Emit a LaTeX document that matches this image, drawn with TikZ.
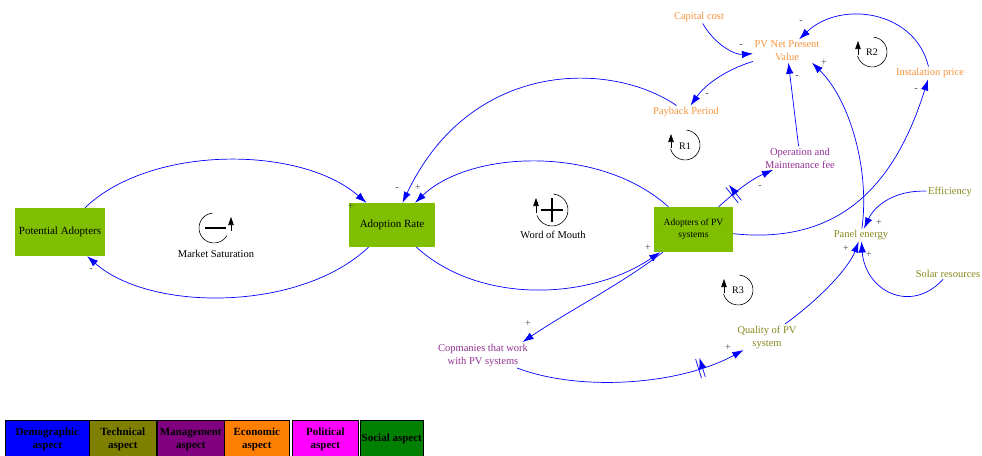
\documentclass[tikz,border=0pt]{standalone}
\usepackage{fontspec}
\setmainfont{Liberation Serif}
\usetikzlibrary{arrows.meta,decorations.markings}
\definecolor{boxgreen}{RGB}{127,191,0}
\definecolor{ecotext}{RGB}{247,148,60}
\definecolor{mgmttext}{RGB}{148,48,148}
\definecolor{techtext}{RGB}{136,136,30}
\definecolor{polgray}{RGB}{70,70,70}
\definecolor{lgblue}{RGB}{0,0,255}
\definecolor{lgolive}{RGB}{128,128,0}
\definecolor{lgpurple}{RGB}{128,0,128}
\definecolor{lgorange}{RGB}{255,128,0}
\definecolor{lgmagenta}{RGB}{255,0,255}
\definecolor{lggreen}{RGB}{0,128,0}
\begin{document}
\begin{tikzpicture}[x=1pt,y=-1pt,
  every node/.style={font=\fontsize{10.5}{13}\selectfont},
  stockbox/.style={fill=boxgreen, inner sep=2pt, align=center},
  eco/.style={text=ecotext, align=center, inner sep=1.5pt},
  mgmt/.style={text=mgmttext, align=center, inner sep=1.5pt},
  tech/.style={text=techtext, align=center, inner sep=1.5pt},
  pol/.style={font=\fontsize{10}{10}\selectfont, text=polgray, inner sep=0pt},
  conn/.style={blue, line width=0.7pt, -{Latex[length=11pt,width=7.5pt]}},
  loopsym/.style={black, line width=0.6pt},
  looptip/.style={black, line width=0.6pt, -{Triangle[length=8pt,width=5.5pt]}},
  legbox/.style={draw=black, line width=0.6pt, minimum height=38pt, anchor=north west, inner sep=0pt, align=center, font=\bfseries\fontsize{11}{13}\selectfont},
  delaymark/.style={postaction={decorate,decoration={markings,mark=at position #1 with {\draw[blue,line width=0.7pt] (-2pt,-10pt)--(-2pt,10pt) (2pt,-10pt)--(2pt,10pt);}}}}
]
\clip (0,0) rectangle (982,455);
\fill[white] (0,0) rectangle (982,455);

% stocks
\node[stockbox, minimum width=90pt, minimum height=48pt, font=\fontsize{11}{13}\selectfont] (PA) at (60,232) {Potential Adopters};
\node[stockbox, minimum width=86pt, minimum height=44pt, font=\fontsize{11}{13}\selectfont] (AR) at (392,225) {Adoption Rate};
\node[stockbox, minimum width=79pt, minimum height=45pt, font=\fontsize{9.5}{12}\selectfont] (AdPV) at (693.5,229.5) {Adopters of PV\\systems};

% variables
\node[eco] (Cap) at (699,17) {Capital cost};
\node[eco] (PV) at (787,51) {PV Net Present\\Value};
\node[eco] (Inst) at (930,73) {Instalation price};
\node[eco] (PB) at (686,112) {Payback Period};
\node[mgmt] (Op) at (800,158) {Operation and\\Maintenance fee};
\node[tech] (PE) at (861,235) {Panel energy};
\node[tech] (Eff) at (950,192) {Efficiency};
\node[tech] (Solar) at (948,274) {Solar resources};
\node[tech] (Qual) at (767,337) {Quality of PV\\system};
\node[mgmt] (Comp) at (483,355) {Copmanies that work\\with PV systems};

% connectors
\draw[conn] (PA) .. controls (150,145) and (300,145) .. (AR);
\draw[conn] (AR) .. controls (300,312) and (150,312) .. (PA);
\draw[conn] (PB) .. controls (610,60) and (470,60) .. (AR);
\draw[conn] (AdPV) .. controls (600,145) and (470,150) .. (AR);
\draw[conn] (AR) .. controls (480,305) and (590,300) .. (AdPV);
\draw[conn] ([xshift=9pt]AdPV.south west) .. controls (620,285) and (570,310) .. ([xshift=-7pt]Comp.north east);
\draw[conn, delaymark=0.8] (Comp) .. controls (580,392) and (680,385) .. (Qual);
\draw[conn] (Qual) .. controls (825,295) and (850,265) .. (PE);
\draw[conn] (Solar) .. controls (910,315) and (865,290) .. (PE);
\draw[conn] (Eff) .. controls (895,190) and (875,205) .. (PE);
\draw[conn] (PE) .. controls (870,170) and (850,100) .. ([xshift=-9pt]PV.south east);
\draw[conn] (AdPV) .. controls (840,245) and (895,185) .. (Inst);
\draw[conn] (Inst) .. controls (915,10) and (840,0) .. (PV);
\draw[conn] (Cap) .. controls (715,45) and (735,55) .. (PV);
\draw[conn] (PV) .. controls (725,70) and (705,85) .. (PB);
\draw[conn] (Op) -- (PV);
\draw[conn, delaymark=0.3] (AdPV) .. controls (735,192) and (750,180) .. (Op);

% polarities
\node[pol] (p1) at (351,207) {+};
\node[pol] (p2) at (91,270) {-};
\node[pol] (p3) at (397,189) {-};
\node[pol] (p4) at (418,188) {+};
\node[pol] (p5) at (648,248) {+};
\node[pol] (p6) at (528,324) {+};
\node[pol] (p7) at (728,348) {+};
\node[pol] (p8) at (846,249) {+};
\node[pol] (p9) at (869,255) {+};
\node[pol] (p10) at (879,223) {+};
\node[pol] (p11) at (760,187) {-};
\node[pol] (p12) at (797,77) {-};
\node[pol] (p13) at (824,63) {+};
\node[pol] (p14) at (741,46) {-};
\node[pol] (p15) at (707,95) {-};
\node[pol] (p16) at (801,22) {-};
\node[pol] (p17) at (916,90) {-};

% loop: Market Saturation (balancing)
\draw[loopsym] (214,228) ++(-95:15) arc (-95:-330:15);
\draw[looptip] (231,231) -- (231,217);
\draw[line width=1.8pt] (205,228) -- (226,228);
\node (MS) at (216,254) {Market Saturation};

% loop: Word of Mouth (reinforcing)
\draw[loopsym] (552,210) ++(-85:16) arc (-85:160:16);
\draw[looptip] (536,213) -- (536,198);
\draw[line width=1.8pt] (541,210) -- (563,210) (552,198) -- (552,222);
\node (WM) at (553,235) {Word of Mouth};

% R loops
\draw[loopsym] (685,145) ++(-85:15) arc (-85:165:15);
\draw[looptip] (671,148) -- (671,134);
\node[font=\fontsize{10}{12}\selectfont] (R1) at (685,146) {R1};
\draw[loopsym] (872,52) ++(-85:15) arc (-85:165:15);
\draw[looptip] (858,55) -- (858,41);
\node[font=\fontsize{10}{12}\selectfont] (R2) at (872,52) {R2};
\draw[loopsym] (738,290) ++(-85:15) arc (-85:165:15);
\draw[looptip] (724,293) -- (724,279);
\node[font=\fontsize{10}{12}\selectfont] (R3) at (738,290) {R3};

% legend
\node[legbox, fill=lgblue, minimum width=84pt] (lg1) at (5,420) {Demographic\\aspect};
\node[legbox, fill=lgolive, minimum width=67pt] (lg2) at (89,420) {Technical\\aspect};
\node[legbox, fill=lgpurple, minimum width=67pt] (lg3) at (157,420) {Management\\aspect};
\node[legbox, fill=lgorange, minimum width=65pt] (lg4) at (224,420) {Economic\\aspect};
\node[legbox, fill=lgmagenta, minimum width=66pt] (lg5) at (292,420) {Political\\aspect};
\node[legbox, fill=lggreen, minimum width=63pt] (lg6) at (360,420) {Social aspect};
\end{tikzpicture}
\end{document}
